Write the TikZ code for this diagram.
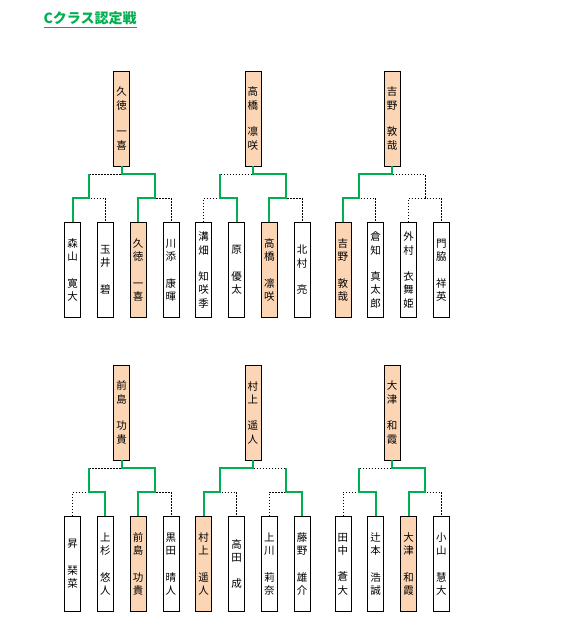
\documentclass[tikz,border=0pt]{standalone}
\usepackage{fontspec}
\usepackage{xcolor}
\usepackage{tikz}
\usetikzlibrary{positioning, calc}
\newfontfamily\jpfont{Noto Sans CJK JP}
\definecolor{wingreen}{RGB}{0,176,80}
\definecolor{winfill}{RGB}{252,213,180}
\tikzstyle{player} = [rectangle, draw=black, line width=0.8pt, minimum width=16pt, minimum height=95pt, inner sep=0pt, align=center, font=\jpfont\fontsize{10.5}{13.3}\selectfont]
\tikzstyle{winner} = [player, fill=winfill]
\tikzstyle{dotline} = [line width=0.8pt, dash pattern=on 1.5pt off 1.5pt]
\tikzstyle{winline} = [line width=2pt, draw=wingreen]

\begin{document}
\begin{tikzpicture}[x=1pt, y=1pt, node distance=16pt]
    \useasboundingbox (0,0) rectangle (570,629);
    \node (title) [anchor=base west, text=wingreen, font=\jpfont\bfseries\fontsize{14}{16}\selectfont] at (40,605) {\underline{Cクラス認定戦}};

    % top row
    \node (a1) [player] at (72.5,359) {森\\山\\[13.3pt]寛\\大};
    \node (a2) [player, right=of a1] {玉\\井\\[13.3pt]碧};
    \node (a3) [winner, right=of a2] {久\\徳\\[13.3pt]一\\喜};
    \node (a4) [player, right=of a3] {川\\添\\[13.3pt]康\\暉};
    \node (b1) [player, right=of a4] {溝\\畑\\[13.3pt]知\\咲\\季};
    \node (b2) [player, right=of b1] {原\\[13.3pt]優\\太};
    \node (b3) [winner, right=of b2] {高\\橋\\[13.3pt]凛\\咲};
    \node (b4) [player, right=of b3] {北\\村\\[13.3pt]亮};
    \node (c1) [winner, right=24pt of b4] {吉\\野\\[13.3pt]敦\\哉};
    \node (c2) [player, right=of c1] {倉\\知\\[13.3pt]真\\太\\郎};
    \node (c3) [player, right=of c2] {外\\村\\[13.3pt]衣\\舞\\姫};
    \node (c4) [player, right=of c3] {門\\脇\\[13.3pt]祥\\英};

    \node (aw) [winner] at ($(a2.north)!0.5!(a3.north)+(0,103.5)$) {久\\徳\\[13.3pt]一\\喜};
    \node (bw) [winner] at ($(b2.north)!0.5!(b3.north)+(0,103.5)$) {高\\橋\\[13.3pt]凛\\咲};
    \node (cw) [winner] at ($(c2.north)!0.5!(c3.north)+(0,103.5)$) {吉\\野\\[13.3pt]敦\\哉};

    % bottom row
    \node (d1) [player] at (72.5,65) {昇\\[13.3pt]琹\\菜};
    \node (d2) [player, right=of d1] {上\\杉\\[13.3pt]悠\\人};
    \node (d3) [winner, right=of d2] {前\\島\\[13.3pt]功\\貴};
    \node (d4) [player, right=of d3] {黒\\田\\[13.3pt]晴\\人};
    \node (e1) [winner, right=of d4] {村\\上\\[13.3pt]遥\\人};
    \node (e2) [player, right=of e1] {高\\田\\[13.3pt]成};
    \node (e3) [player, right=of e2] {上\\川\\[13.3pt]莉\\奈};
    \node (e4) [player, right=of e3] {藤\\野\\[13.3pt]雄\\介};
    \node (f1) [player, right=24pt of e4] {田\\中\\[13.3pt]蒼\\大};
    \node (f2) [player, right=of f1] {辻\\本\\[13.3pt]浩\\誠};
    \node (f3) [winner, right=of f2] {大\\津\\[13.3pt]和\\霞};
    \node (f4) [player, right=of f3] {小\\山\\[13.3pt]慧\\大};

    \node (dw) [winner] at ($(d2.north)!0.5!(d3.north)+(0,103.5)$) {前\\島\\[13.3pt]功\\貴};
    \node (ew) [winner] at ($(e2.north)!0.5!(e3.north)+(0,103.5)$) {村\\上\\[13.3pt]遥\\人};
    \node (fw) [winner] at ($(f2.north)!0.5!(f3.north)+(0,103.5)$) {大\\津\\[13.3pt]和\\霞};

    % bracket lines
    \foreach \br in {a,b,c,d,e,f} {
        \coordinate (\br fin) at ($(\br w.south)+(0,-8)$);
        \coordinate (\br12) at ($(\br1.north)!0.5!(\br2.north)+(0,24)$);
        \coordinate (\br34) at ($(\br3.north)!0.5!(\br4.north)+(0,24)$);
        \draw [dotline] (\br1.north) |- (\br12) -| (\br2.north);
        \draw [dotline] (\br3.north) |- (\br34) -| (\br4.north);
        \draw [dotline] (\br12) |- (\br fin) -| (\br34);
    }

    % winning paths
    \draw [winline] (aw.south) -- (afin) -| (a34) -| (a3.north);
    \draw [winline] (a12 |- afin) -- (a12) -| (a1.north);
    \draw [winline] (bw.south) -- (bfin) -| (b34) -| (b3.north);
    \draw [winline] (b12 |- bfin) -- (b12) -| (b2.north);
    \draw [winline] (cw.south) -- (cfin) -| (c12) -| (c1.north);
    \draw [winline] (dw.south) -- (dfin) -| (d34) -| (d3.north);
    \draw [winline] (d12 |- dfin) -- (d12) -| (d2.north);
    \draw [winline] (ew.south) -- (efin) -| (e12) -| (e1.north);
    \draw [winline] (e34 |- efin) -- (e34) -| (e4.north);
    \draw [winline] (fw.south) -- (ffin) -| (f34) -| (f3.north);
    \draw [winline] (f12 |- ffin) -- (f12) -| (f2.north);
\end{tikzpicture}
\end{document}
